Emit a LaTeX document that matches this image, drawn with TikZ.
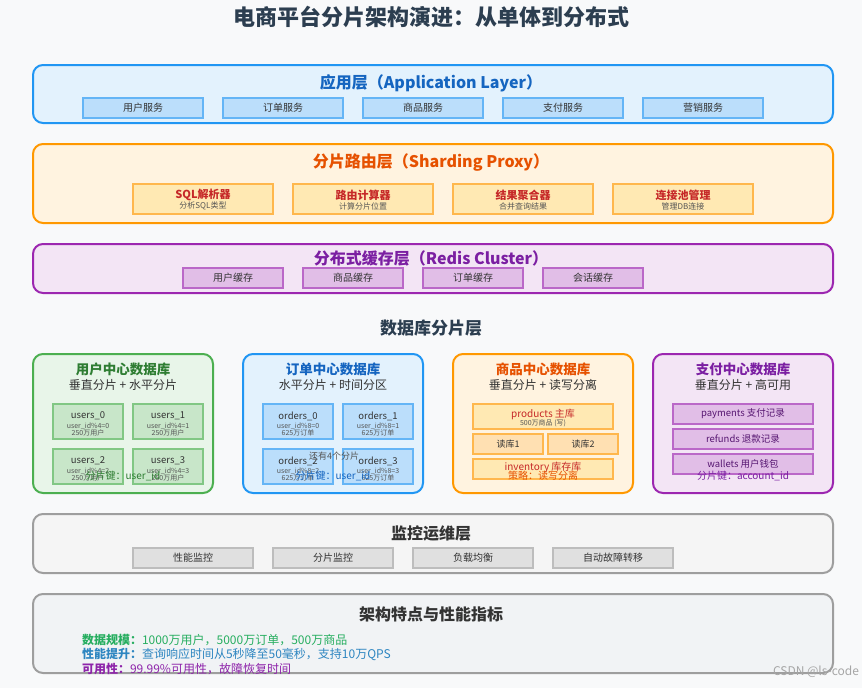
\documentclass[tikz,border=0pt]{standalone}
\usepackage{fontspec}
\setmainfont{Noto Sans CJK SC}
\definecolor{bgc}{HTML}{F8F9FA}
\definecolor{ttl}{HTML}{2C3E50}
\definecolor{appB}{HTML}{2196F3}
\definecolor{appF}{HTML}{E3F2FD}
\definecolor{appT}{HTML}{1565C0}
\definecolor{appSF}{HTML}{BBDEFB}
\definecolor{appSB}{HTML}{64B5F6}
\definecolor{prxB}{HTML}{FF9800}
\definecolor{prxF}{HTML}{FFF3E0}
\definecolor{prxT}{HTML}{E65100}
\definecolor{prxSF}{HTML}{FFE9B3}
\definecolor{prxSB}{HTML}{FFB74D}
\definecolor{prxST}{HTML}{C62828}
\definecolor{rdsB}{HTML}{9C27B0}
\definecolor{rdsF}{HTML}{F3E5F5}
\definecolor{rdsT}{HTML}{7B1FA2}
\definecolor{rdsSF}{HTML}{E1BEE7}
\definecolor{rdsSB}{HTML}{BA68C8}
\definecolor{grnB}{HTML}{4CAF50}
\definecolor{grnF}{HTML}{E8F5E9}
\definecolor{grnT}{HTML}{2E7D32}
\definecolor{grnSF}{HTML}{C8E6C9}
\definecolor{grnSB}{HTML}{81C784}
\definecolor{rdF}{HTML}{FFE0B2}
\definecolor{monB}{HTML}{9E9E9E}
\definecolor{monF}{HTML}{F5F5F5}
\definecolor{monSF}{HTML}{E0E0E0}
\definecolor{monSB}{HTML}{BDBDBD}
\definecolor{sumF}{HTML}{F1F3F5}
\definecolor{txt}{HTML}{333333}
\definecolor{small}{HTML}{555555}
\definecolor{kG}{HTML}{27AE60}
\definecolor{kB}{HTML}{2E86C1}
\definecolor{kP}{HTML}{8E24AA}
\newcommand\bx[6]{\node[#6, minimum width=#4pt-#2pt, minimum height=#5pt-#3pt] (#1) at ({(#2+#4)/2},{(#3+#5)/2}) {};}
\begin{document}
\begin{tikzpicture}[x=1pt,y=-1pt,
  fs/.style={font=\fontsize{#1}{#1}\selectfont},
  fsb/.style={font=\fontsize{#1}{#1}\selectfont\bfseries},
  layer/.style={draw, rounded corners=10pt, line width=2pt, inner sep=0pt, outer sep=0pt},
  sub/.style={draw, line width=1.8pt, inner sep=0pt, outer sep=0pt},
  lbl/.style={inner sep=0pt, outer sep=0pt}]
\fill[bgc] (0,0) rectangle (862,688);
\useasboundingbox (0,0) rectangle (862,688);

\node[lbl, fsb=22, text=ttl] (title) at (431,17) {电商平台分片架构演进：从单体到分布式};

% Application layer
\bx{app}{33}{65}{833}{123}{layer, draw=appB, fill=appF}
\node[lbl, fsb=16, text=appT] (appt) at (431,83) {应用层（Application Layer）};
\bx{a1}{83}{98}{203}{118}{sub, draw=appSB, fill=appSF}
\bx{a2}{223}{98}{343}{118}{sub, draw=appSB, fill=appSF}
\bx{a3}{363}{98}{483}{118}{sub, draw=appSB, fill=appSF}
\bx{a4}{503}{98}{623}{118}{sub, draw=appSB, fill=appSF}
\bx{a5}{643}{98}{763}{118}{sub, draw=appSB, fill=appSF}
\node[lbl, fs=10, text=txt] (a1t) at (a1) {用户服务};
\node[lbl, fs=10, text=txt] (a2t) at (a2) {订单服务};
\node[lbl, fs=10, text=txt] (a3t) at (a3) {商品服务};
\node[lbl, fs=10, text=txt] (a4t) at (a4) {支付服务};
\node[lbl, fs=10, text=txt] (a5t) at (a5) {营销服务};

% Sharding proxy
\bx{prx}{33}{144}{833}{223}{layer, draw=prxB, fill=prxF}
\node[lbl, fsb=16, text=prxT] (prxt) at (431,163) {分片路由层（Sharding Proxy）};
\bx{p1}{133}{184}{273}{214}{sub, draw=prxSB, fill=prxSF}
\bx{p2}{293}{184}{433}{214}{sub, draw=prxSB, fill=prxSF}
\bx{p3}{453}{184}{593}{214}{sub, draw=prxSB, fill=prxSF}
\bx{p4}{613}{184}{753}{214}{sub, draw=prxSB, fill=prxSF}
\node[lbl, fsb=11, text=prxST] (p1t) at (203,195) {SQL解析器};
\node[lbl, fs=8, text=small] (p1s) at (203,206) {分析SQL类型};
\node[lbl, fsb=11, text=prxST] (p2t) at (363,195) {路由计算器};
\node[lbl, fs=8, text=small] (p2s) at (363,206) {计算分片位置};
\node[lbl, fsb=11, text=prxST] (p3t) at (523,195) {结果聚合器};
\node[lbl, fs=8, text=small] (p3s) at (523,206) {合并查询结果};
\node[lbl, fsb=11, text=prxST] (p4t) at (683,195) {连接池管理};
\node[lbl, fs=8, text=small] (p4s) at (683,206) {管理DB连接};

% Redis
\bx{rds}{33}{244}{833}{293}{layer, draw=rdsB, fill=rdsF}
\node[lbl, fsb=16, text=rdsT] (rdst) at (431,258) {分布式缓存层（Redis Cluster）};
\bx{r1}{183}{268}{283}{288}{sub, draw=rdsSB, fill=rdsSF}
\bx{r2}{303}{268}{403}{288}{sub, draw=rdsSB, fill=rdsSF}
\bx{r3}{423}{268}{523}{288}{sub, draw=rdsSB, fill=rdsSF}
\bx{r4}{543}{268}{643}{288}{sub, draw=rdsSB, fill=rdsSF}
\node[lbl, fs=10, text=txt] (r1t) at (r1) {用户缓存};
\node[lbl, fs=10, text=txt] (r2t) at (r2) {商品缓存};
\node[lbl, fs=10, text=txt] (r3t) at (r3) {订单缓存};
\node[lbl, fs=10, text=txt] (r4t) at (r4) {会话缓存};

\node[lbl, fsb=17, text=ttl] (dbt) at (431,328) {数据库分片层};

% User DB
\bx{udb}{33}{354}{213}{493}{layer, draw=grnB, fill=grnF}
\node[lbl, fsb=13.5, text=grnT] (udbt) at (123,369) {用户中心数据库};
\node[lbl, fs=12, text=txt] (udbs) at (123,385) {垂直分片 + 水平分片};
\bx{u0}{53}{404}{123}{439}{sub, draw=grnSB, fill=grnSF}
\bx{u1}{133}{404}{203}{439}{sub, draw=grnSB, fill=grnSF}
\bx{u2}{53}{449}{123}{484}{sub, draw=grnSB, fill=grnSF}
\bx{u3}{133}{449}{203}{484}{sub, draw=grnSB, fill=grnSF}
\node[lbl, fs=9.5, text=txt] (u0a) at (88,416) {users\_0};
\node[lbl, fs=7, text=small] (u0b) at (88,426) {user\_id\%4=0};
\node[lbl, fs=7, text=small] (u0c) at (88,433) {250万用户};
\node[lbl, fs=9.5, text=txt] (u1a) at (168,416) {users\_1};
\node[lbl, fs=7, text=small] (u1b) at (168,426) {user\_id\%4=1};
\node[lbl, fs=7, text=small] (u1c) at (168,433) {250万用户};
\node[lbl, fs=9.5, text=txt] (u2a) at (88,461) {users\_2};
\node[lbl, fs=7, text=small] (u2b) at (88,471) {user\_id\%4=2};
\node[lbl, fs=7, text=small] (u2c) at (88,478) {250万用户};
\node[lbl, fs=9.5, text=txt] (u3a) at (168,461) {users\_3};
\node[lbl, fs=7, text=small] (u3b) at (168,471) {user\_id\%4=3};
\node[lbl, fs=7, text=small] (u3c) at (168,478) {250万用户};
\node[lbl, fs=10, text=grnT] (ukey) at (123,476) {分片键：user\_id};

% Order DB
\bx{odb}{243}{354}{423}{493}{layer, draw=appB, fill=appF}
\node[lbl, fsb=13.5, text=appT] (odbt) at (333,369) {订单中心数据库};
\node[lbl, fs=12, text=txt] (odbs) at (333,385) {水平分片 + 时间分区};
\bx{o0}{263}{404}{333}{439}{sub, draw=appSB, fill=appSF}
\bx{o1}{343}{404}{413}{439}{sub, draw=appSB, fill=appSF}
\bx{o2}{263}{449}{333}{484}{sub, draw=appSB, fill=appSF}
\bx{o3}{343}{449}{413}{484}{sub, draw=appSB, fill=appSF}
\node[lbl, fs=9.5, text=txt] (o0a) at (298,416) {orders\_0};
\node[lbl, fs=7, text=small] (o0b) at (298,426) {user\_id\%8=0};
\node[lbl, fs=7, text=small] (o0c) at (298,433) {625万订单};
\node[lbl, fs=9.5, text=txt] (o1a) at (378,416) {orders\_1};
\node[lbl, fs=7, text=small] (o1b) at (378,426) {user\_id\%8=1};
\node[lbl, fs=7, text=small] (o1c) at (378,433) {625万订单};
\node[lbl, fs=9.5, text=txt] (o2a) at (298,461) {orders\_2};
\node[lbl, fs=7, text=small] (o2b) at (298,471) {user\_id\%8=2};
\node[lbl, fs=7, text=small] (o2c) at (298,478) {625万订单};
\node[lbl, fs=9.5, text=txt] (o3a) at (378,461) {orders\_3};
\node[lbl, fs=7, text=small] (o3b) at (378,471) {user\_id\%8=3};
\node[lbl, fs=7, text=small] (o3c) at (378,478) {625万订单};
\node[lbl, fs=9, text=small] (omore) at (334,456) {还有4个分片};
\node[lbl, fs=10, text=appT] (okey) at (333,476) {分片键：user\_id};

% Product DB
\bx{pdb}{453}{354}{633}{493}{layer, draw=prxB, fill=prxF}
\node[lbl, fsb=13.5, text=prxT] (pdbt) at (543,369) {商品中心数据库};
\node[lbl, fs=12, text=txt] (pdbs) at (543,385) {垂直分片 + 读写分离};
\bx{pm}{473}{404}{613}{429}{sub, draw=prxSB, fill=prxSF}
\bx{pr1}{473}{434}{543}{454}{sub, draw=prxSB, fill=rdF}
\bx{pr2}{548}{434}{618}{454}{sub, draw=prxSB, fill=rdF}
\bx{pinv}{473}{459}{613}{479}{sub, draw=prxSB, fill=prxSF}
\node[lbl, fs=10, text=prxST] (pmt) at (543,414) {products 主库};
\node[lbl, fs=7, text=small] (pms) at (543,423) {500万商品 (写)};
\node[lbl, fs=9, text=txt] (pr1t) at (pr1) {读库1};
\node[lbl, fs=9, text=txt] (pr2t) at (pr2) {读库2};
\node[lbl, fs=10, text=prxST] (pinvt) at (543,467) {inventory 库存库};
\node[lbl, fs=10, text=prxT] (pkey) at (543,476) {策略：读写分离};

% Payment DB
\bx{ydb}{653}{354}{833}{493}{layer, draw=rdsB, fill=rdsF}
\node[lbl, fsb=13.5, text=rdsT] (ydbt) at (743,369) {支付中心数据库};
\node[lbl, fs=12, text=txt] (ydbs) at (743,385) {垂直分片 + 高可用};
\bx{y1}{673}{404}{813}{424}{sub, draw=rdsSB, fill=rdsSF}
\bx{y2}{673}{429}{813}{449}{sub, draw=rdsSB, fill=rdsSF}
\bx{y3}{673}{454}{813}{474}{sub, draw=rdsSB, fill=rdsSF}
\node[lbl, fs=9.5, text=rdsT!70!black] (y1t) at (743,414) {payments 支付记录};
\node[lbl, fs=9.5, text=rdsT!70!black] (y2t) at (743,439) {refunds 退款记录};
\node[lbl, fs=9.5, text=rdsT!70!black] (y3t) at (743,464) {wallets 用户钱包};
\node[lbl, fs=10, text=rdsT] (ykey) at (743,476) {分片键：account\_id};

% Monitoring
\bx{mon}{33}{514}{833}{573}{layer, draw=monB, fill=monF}
\node[lbl, fsb=16, text=txt] (mont) at (431,533) {监控运维层};
\bx{m1}{133}{548}{253}{568}{sub, draw=monSB, fill=monSF}
\bx{m2}{273}{548}{393}{568}{sub, draw=monSB, fill=monSF}
\bx{m3}{413}{548}{533}{568}{sub, draw=monSB, fill=monSF}
\bx{m4}{553}{548}{673}{568}{sub, draw=monSB, fill=monSF}
\node[lbl, fs=10, text=txt] (m1t) at (m1) {性能监控};
\node[lbl, fs=10, text=txt] (m2t) at (m2) {分片监控};
\node[lbl, fs=10, text=txt] (m3t) at (m3) {负载均衡};
\node[lbl, fs=10, text=txt] (m4t) at (m4) {自动故障转移};

% Summary
\bx{sum}{33}{594}{833}{673}{layer, draw=monB, fill=sumF}
\node[lbl, fsb=16, text=txt] (sumt) at (431,614) {架构特点与性能指标};
\node[lbl, fs=12, anchor=west, text=kG] (s1) at (82,640) {\textbf{数据规模：}1000万用户，5000万订单，500万商品};
\node[lbl, fs=12, anchor=west, text=kB] (s2) at (82,654) {\textbf{性能提升：}查询响应时间从5秒降至50毫秒，支持10万QPS};
\node[lbl, fs=12, anchor=west, text=kP] (s3) at (82,669) {\textbf{可用性：}99.99\%可用性，故障恢复时间};

\node[lbl, fs=12, anchor=east, text=black!35] (wm) at (859,672) {CSDN @ls-code};
\end{tikzpicture}
\end{document}
